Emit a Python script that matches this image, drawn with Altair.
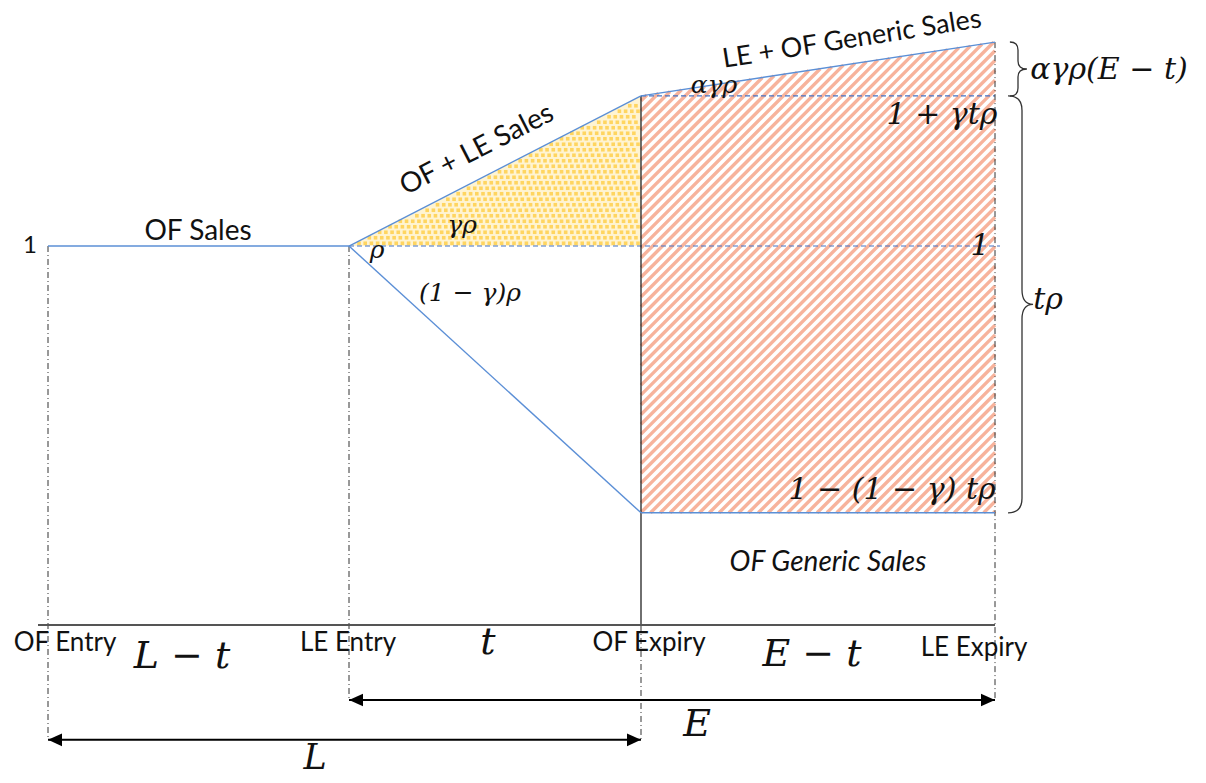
import altair as alt
import pandas as pd

# Timeline milestones (time units) along the horizontal axis
milestone_names = ["OF Entry", "LE Entry", "OF Expiry", "LE Expiry"]
milestone_t = [0.0, 3.01, 5.93, 9.47]

# Sales levels, relative to original-formulation sales = 1
level_of = 1.0          # OF sales before LE entry
level_peak = 1.396      # 1 + γtρ, OF + LE sales at OF expiry
level_end = 1.538       # LE + OF generic sales at LE expiry
level_generic = 0.296   # 1 − (1 − γ)tρ, OF generic sales
level_axis = 0.0

# Heights of the dimension arrows below the axis
arrow_E = -0.198
arrow_L = -0.303

t0, t1, t2, t3 = milestone_t

xs = alt.Scale(domain=[-0.48, 11.58], nice=False, zero=False)
ys = alt.Scale(domain=[-0.4169, 1.6491], nice=False, zero=False)
X = lambda f="t": alt.X(f"{f}:Q", scale=xs, axis=None)
Y = lambda f="s": alt.Y(f"{f}:Q", scale=ys, axis=None)


def segs(rows, **mark):
    df = pd.DataFrame(rows, columns=["t", "s", "t2", "s2"])
    return alt.Chart(df).mark_rule(**mark).encode(
        x=X(), y=Y(), x2="t2:Q", y2="s2:Q")


def labels(rows, **mark):
    df = pd.DataFrame(rows, columns=["t", "s", "text"])
    return alt.Chart(df).mark_text(**mark).encode(x=X(), y=Y(), text="text:N")


def symbols(rows, **mark):
    df = pd.DataFrame(rows, columns=["t", "s"])
    return alt.Chart(df).mark_point(**mark).encode(x=X(), y=Y())


layers = []

# --- yellow dotted triangle: extra LE sales between LE entry and OF expiry ---
tri = pd.DataFrame({"t": [t1, t2], "s": [level_of, level_peak],
                    "s2": [level_of, level_of]})
layers.append(alt.Chart(tri).mark_area(color="#FFF4D2").encode(
    x=X(), y=Y(), y2="s2:Q"))

dots = []
dt_dot, ds_dot = 0.062, 5.5 / 379
row = 0
s = level_of + ds_dot * 0.5
while s < level_peak - ds_dot * 0.3:
    shift = (row % 3) * dt_dot / 3
    t_min = t1 + (s - level_of) * (t2 - t1) / (level_peak - level_of)
    t = t2 - 0.03 - shift
    while t > t_min + 0.03:
        dots.append((t, s))
        t -= dt_dot
    s += ds_dot
    row += 1
layers.append(symbols(dots, shape="square", size=13, filled=True,
                      color="#FFD560", opacity=1, strokeWidth=0))

# --- hatched region: LE + OF generic sales after OF expiry ---
k = 100 / 379          # 45° in screen space
m = (level_end - level_peak) / (t3 - t2)
stripes = []
c = t2 - (level_end - level_generic) / k
while c < t3:
    t_top = (level_peak - level_generic - m * t2 + k * c) / (k - m)
    a = max(t2, c)
    b = min(t3, t_top)
    if b > a:
        stripes.append((a, level_generic + k * (a - c),
                        b, level_generic + k * (b - c)))
    c += 0.098
layers.append(segs(stripes, color="#F7B39C", strokeWidth=3.4))

# --- reference (dashed) levels ---
layers.append(segs([(t1, level_of, t3 + 0.05, level_of),
                    (t2, level_peak, t3, level_peak)],
                   color="#4472C4", strokeWidth=1.2, strokeDash=[5, 3]))

# --- dash-dot milestone guides ---
layers.append(segs([(t0, level_of, t0, arrow_L),
                    (t1, level_of, t1, arrow_E),
                    (t2, level_axis, t2, arrow_L),
                    (t3, level_end, t3, arrow_E)],
                   color="#333333", strokeWidth=1, strokeDash=[6, 3, 1, 3]))

# OF expiry boundary
layers.append(segs([(t2, level_peak, t2, level_axis)],
                   color="#222222", strokeWidth=1.3))

# time axis
layers.append(segs([(t0 - 0.1, level_axis, t3, level_axis)],
                   color="#555555", strokeWidth=1.8))

# --- sales paths ---
layers.append(segs([(t0, level_of, t1, level_of),
                    (t1, level_of, t2, level_peak),
                    (t2, level_peak, t3, level_end),
                    (t1, level_of, t2, level_generic),
                    (t2, level_generic, t3, level_generic)],
                   color="#5B8FD6", strokeWidth=1.4))

# --- dimension arrows ---
layers.append(segs([(t1, arrow_E, t3, arrow_E), (t0, arrow_L, t2, arrow_L)],
                   color="#000000", strokeWidth=2))
layers.append(symbols([(t1, arrow_E), (t0, arrow_L)],
                      shape="M 0 0 L 2 -0.9 L 2 0.9 Z", size=196,
                      filled=True, color="#000000", opacity=1))
layers.append(symbols([(t3, arrow_E), (t2, arrow_L)],
                      shape="M 0 0 L -2 -0.9 L -2 0.9 Z", size=196,
                      filled=True, color="#000000", opacity=1))

# --- curly braces on the right ---
layers.append(symbols([(9.70, (level_end + level_peak) / 2)],
                      shape="M -0.3 -1 Q 0 -1 0 -0.7 L 0 -0.3 Q 0 0 0.33 0 "
                            "Q 0 0 0 0.3 L 0 0.7 Q 0 1 -0.3 1",
                      size=(54) ** 2, filled=False, color="#333333",
                      strokeWidth=1.3, opacity=1))
layers.append(symbols([(9.74, (level_peak + level_generic) / 2)],
                      shape="M -0.067 -1 Q 0 -1 0 -0.93 L 0 -0.07 Q 0 0 0.053 0 "
                            "Q 0 0 0 0.07 L 0 0.93 Q 0 1 -0.067 1",
                      size=(417) ** 2, filled=False, color="#333333",
                      strokeWidth=1.3, opacity=1))

# --- text ---
sans = "Lato"
serif = "DejaVu Serif"
ink = "#111111"

layers.append(labels([(-0.18, level_of, "1")],
                     font=sans, fontSize=24, color=ink))
layers.append(labels([(1.50, 1.037, "OF Sales")],
                     font=sans, fontSize=28, color=ink))
layers.append(labels([(4.29, 1.253, "OF + LE Sales")],
                     font=sans, fontSize=28, angle=333, color=ink))
layers.append(labels([(8.04, 1.545, "LE + OF Generic Sales")],
                     font=sans, fontSize=27, angle=351, color=ink))
layers.append(labels([(7.80, 0.164, "OF Generic Sales")],
                     font=sans, fontSize=28, fontStyle="italic", color=ink))
layers.append(labels([(0.17, -0.0475, milestone_names[0]),
                      (3.00, -0.0475, milestone_names[1]),
                      (6.01, -0.0475, milestone_names[2]),
                      (9.26, -0.061, milestone_names[3])],
                     font=sans, fontSize=26, color=ink))

layers.append(labels([(3.29, 0.99, "ρ"),
                      (4.14, 1.055, "γρ"),
                      (4.22, 0.876, "(1 − γ)ρ"),
                      (6.66, 1.425, "αγρ")],
                     font=serif, fontSize=25, fontStyle="italic", color=ink))
layers.append(labels([(8.94, 1.346, "1 + γtρ"),
                      (9.32, 1.0, "1"),
                      (8.44, 0.356, "1 − (1 − γ) tρ"),
                      (10.61, 1.464, "αγρ(E − t)"),
                      (10.0, 0.858, "tρ")],
                     font=serif, fontSize=30, fontStyle="italic", color=ink))
layers.append(labels([(1.34, -0.084, "L − t"),
                      (4.40, -0.0475, "t"),
                      (7.64, -0.079, "E − t"),
                      (6.49, -0.264, "E")],
                     font=serif, fontSize=38, fontStyle="italic", color=ink))
layers.append(labels([(2.67, -0.352, "L")],
                     font=serif, fontSize=35, fontStyle="italic", color=ink))

chart = alt.layer(*layers).properties(
    width=1206, height=783, padding=0,
    autosize=alt.AutoSizeParams(type="none"),
    background="white",
).configure_view(stroke=None)

chart.save("out.html", embed_options={"renderer": "svg", "actions": False})
